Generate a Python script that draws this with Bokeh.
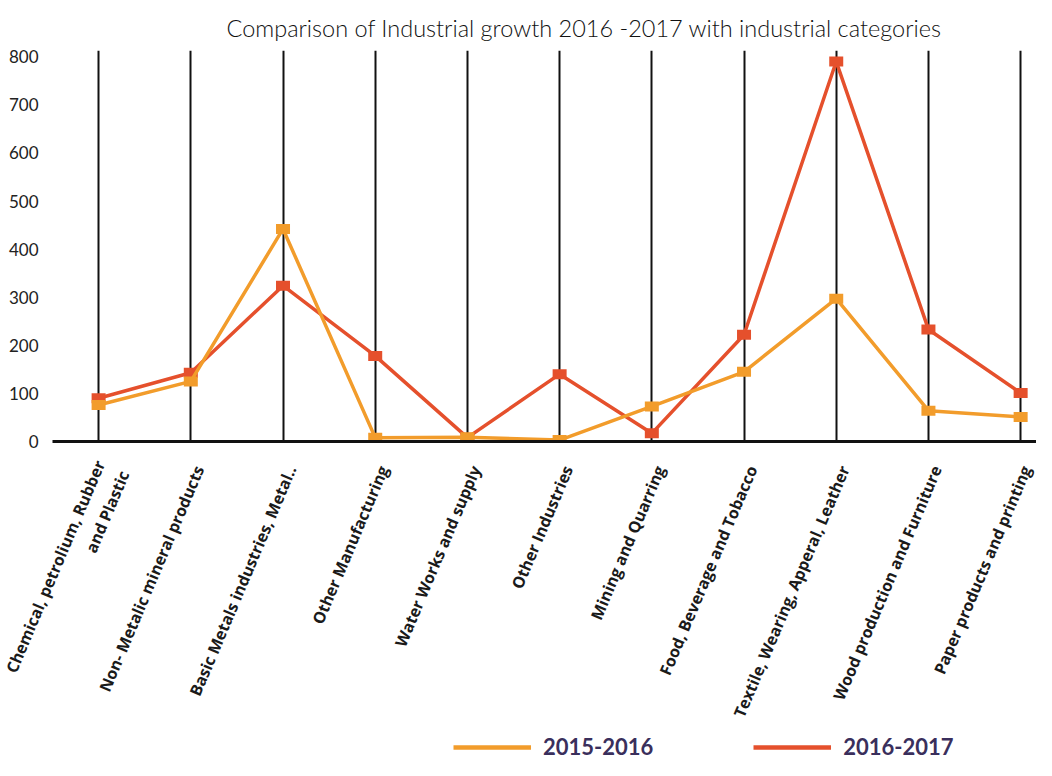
import math
from bokeh.plotting import figure
from bokeh.layouts import column
from bokeh.models import Range1d, FixedTicker, Legend, LegendItem
from bokeh.embed import file_html
from bokeh.resources import INLINE

categories = [
    "Chemical, petrolium, Rubber\nand Plastic",
    "Non- Metalic mineral products",
    "Basic Metals industries, Metal..",
    "Other Manufacturing",
    "Water Works and supply",
    "Other Industries",
    "Mining and Quarring",
    "Food, Beverage and Tobacco",
    "Textile, Wearing, Apperal, Leather",
    "Wood production and Furniture",
    "Paper products and printing",
]
series_2015_2016 = [76, 125, 442, 8, 9, 3, 73, 145, 297, 64, 51]
series_2016_2017 = [90, 143, 324, 178, 8, 140, 17, 222, 790, 233, 101]
y_ticks = [0, 100, 200, 300, 400, 500, 600, 700, 800]
series_names = ["2015-2016", "2016-2017"]

ORANGE = "#f29c2b"
RED = "#e5502c"

x = list(range(len(categories)))
# label anchors sit slightly right of each category line (the two-line label a bit less)
label_ticks = [i + (-0.05 if "\n" in c else 0.09) for i, c in zip(x, categories)]

p = figure(width=1036, height=732, output_backend="svg", toolbar_location=None,
           x_range=Range1d(-0.5, 10.172), y_range=Range1d(0, 813),
           min_border_left=52, min_border_right=0, min_border_top=50, min_border_bottom=291,
           title="Comparison of Industrial growth 2016 -2017 with industrial categories")
p.outline_line_color = None
p.background_fill_color = "white"
p.border_fill_color = "white"

p.title.text_font = "Lato Light"
p.title.text_font_style = "normal"
p.title.text_font_size = "23.5px"
p.title.text_color = "#111111"
p.title.align = "left"
p.title.offset = 174
p.title.standoff = 17

# grid: black vertical lines at categories
p.xgrid.ticker = FixedTicker(ticks=x)
p.xgrid.grid_line_color = "#111111"
p.xgrid.grid_line_width = 2
p.ygrid.grid_line_color = None

# x axis
p.xaxis.ticker = FixedTicker(ticks=label_ticks)
p.xaxis.major_label_overrides = {t: c for t, c in zip(label_ticks, categories)}
p.xaxis.axis_line_color = "#111111"
p.xaxis.axis_line_width = 3
p.xaxis.major_tick_line_color = None
p.xaxis.minor_tick_line_color = None
p.xaxis.major_label_orientation = math.radians(67)
p.xaxis.major_label_text_font = "Open Sans"
p.xaxis.major_label_text_font_style = "bold"
p.xaxis.major_label_text_font_size = "16px"
p.xaxis.major_label_text_color = "#1a1a1a"
p.xaxis.major_label_standoff = 19

# y axis
p.yaxis.ticker = FixedTicker(ticks=y_ticks)
p.yaxis.axis_line_color = None
p.yaxis.major_tick_line_color = None
p.yaxis.minor_tick_line_color = None
p.yaxis.major_label_text_font = "Lato"
p.yaxis.major_label_text_font_size = "17px"
p.yaxis.major_label_text_color = "#222222"
p.yaxis.major_label_standoff = 8

p.line(x, series_2016_2017, line_color=RED, line_width=3.5)
p.rect(x, series_2016_2017, width=14, height=10, width_units="screen", height_units="screen",
       fill_color=RED, line_color=None)
p.line(x, series_2015_2016, line_color=ORANGE, line_width=3.5)
p.rect(x, series_2015_2016, width=14, height=10, width_units="screen", height_units="screen",
       fill_color=ORANGE, line_color=None)

# legend strip below the chart (its lines are kept outside its visible range)
lg = figure(width=1036, height=28, output_backend="svg", toolbar_location=None,
            x_axis_location=None, y_axis_location=None,
            x_range=Range1d(-0.5, 10.5), y_range=Range1d(-2000, -1000),
            min_border_left=0, min_border_right=0, min_border_top=0, min_border_bottom=0)
lg.grid.visible = False
lg.outline_line_color = None
lg.background_fill_color = "white"
lg.border_fill_color = "white"
l1 = lg.line(x, series_2015_2016, line_color=ORANGE, line_width=4.5)
l2 = lg.line(x, series_2016_2017, line_color=RED, line_width=4.5)
legend = Legend(items=[LegendItem(label=series_names[0], renderers=[l1]),
                       LegendItem(label=series_names[1], renderers=[l2])],
                orientation="horizontal", location=(401, 0),
                glyph_width=78, glyph_height=22, label_standoff=12, spacing=100,
                padding=0, margin=0, border_line_color=None, background_fill_alpha=0,
                label_text_font="Lato", label_text_font_style="bold",
                label_text_font_size="22px", label_text_color="#3a2f5c")
lg.add_layout(legend, "center")

layout = column(p, lg, spacing=0)
open("out.html", "w").write(file_html(layout, INLINE))
